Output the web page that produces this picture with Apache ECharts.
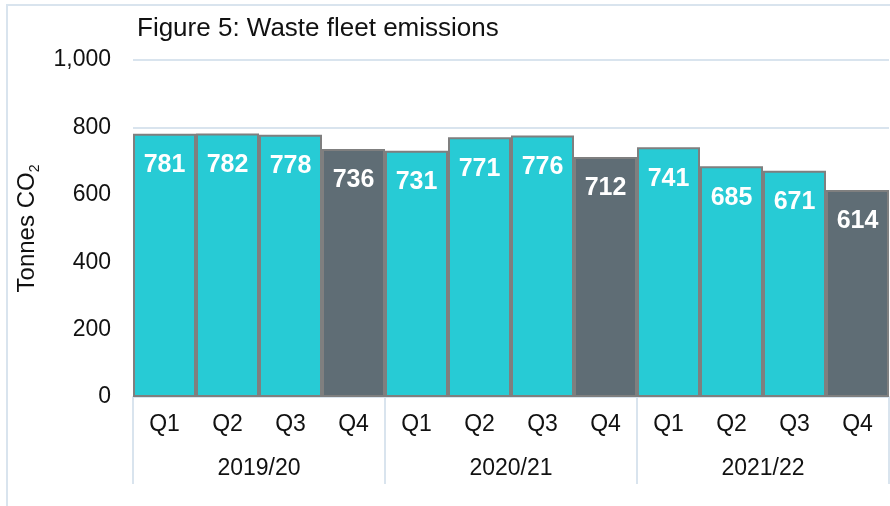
<!DOCTYPE html>
<html>
<head>
<meta charset="utf-8">
<script src="https://cdn.jsdelivr.net/npm/echarts@6/dist/echarts.min.js"></script>
<style>
  html, body { margin: 0; padding: 0; background: #fff; }
  #main { width: 890px; height: 506px; }
</style>
</head>
<body>
<div id="main"></div>
<script>
const quarters = ['Q1', 'Q2', 'Q3', 'Q4', 'Q1', 'Q2', 'Q3', 'Q4', 'Q1', 'Q2', 'Q3', 'Q4']
const years = ['2019/20', '2020/21', '2021/22']
const emissions = [781, 782, 778, 736, 731, 771, 776, 712, 741, 685, 671, 614]
const yTicks = [0, 200, 400, 600, 800, 1000]

const cyan = '#27CBD5'
const slate = '#5F6D75'
const font = 'Liberation Sans, Arial, sans-serif'

const chart = echarts.init(document.getElementById('main'))

chart.setOption({
  animation: false,
  backgroundColor: '#fff',
  textStyle: { fontFamily: font },
  title: {
    text: 'Figure 5: Waste fleet emissions',
    left: 132,
    top: 11,
    textStyle: { fontSize: 26, fontWeight: 'normal', color: '#111', fontFamily: font }
  },
  graphic: [{
    type: 'rect',
    shape: { x: 7, y: 5, width: 1000, height: 1000 },
    style: { fill: 'none', stroke: '#D9E4EE', lineWidth: 2 },
    silent: true
  }],
  grid: { left: 133, right: 1, top: 60, bottom: 109 },
  xAxis: [{
    type: 'category',
    data: quarters,
    axisLine: { lineStyle: { color: '#D9E4EE', width: 2 } },
    axisTick: { show: false },
    axisLabel: { fontSize: 23, color: '#111', margin: 16, fontFamily: font }
  }, {
    type: 'category',
    data: years,
    position: 'bottom',
    axisLine: { show: false },
    axisTick: { show: true, length: 87, lineStyle: { color: '#D9E4EE', width: 2 } },
    axisLabel: { fontSize: 23, color: '#111', margin: 60, fontFamily: font }
  }],
  yAxis: {
    type: 'value',
    min: yTicks[0],
    max: yTicks[yTicks.length - 1],
    interval: 200,
    name: '{a|Tonnes CO}{s|2}',
    nameLocation: 'middle',
    nameRotate: 90,
    nameGap: 91,
    nameTextStyle: {
      rich: {
        a: { fontSize: 24, color: '#111', fontFamily: font, lineHeight: 30 },
        s: { fontSize: 14, color: '#111', fontFamily: font, lineHeight: 30, verticalAlign: 'bottom' }
      }
    },
    axisLine: { show: false },
    axisTick: { show: false },
    axisLabel: {
      fontSize: 23,
      color: '#111',
      margin: 22,
      fontFamily: font,
      formatter: v => v.toLocaleString('en-US')
    },
    splitLine: { lineStyle: { color: '#D9E4EE', width: 2 } }
  },
  series: [{
    type: 'bar',
    xAxisIndex: 0,
    barCategoryGap: 0,
    data: emissions.map((v, i) => ({
      value: v,
      itemStyle: { color: quarters[i] === 'Q4' ? slate : cyan }
    })),
    itemStyle: { borderColor: '#7F7F7F', borderWidth: 2 },
    label: {
      show: true,
      position: 'insideTop',
      distance: 19,
      color: '#fff',
      fontWeight: 'bold',
      fontSize: 25,
      fontFamily: font
    }
  }]
})
</script>
</body>
</html>
